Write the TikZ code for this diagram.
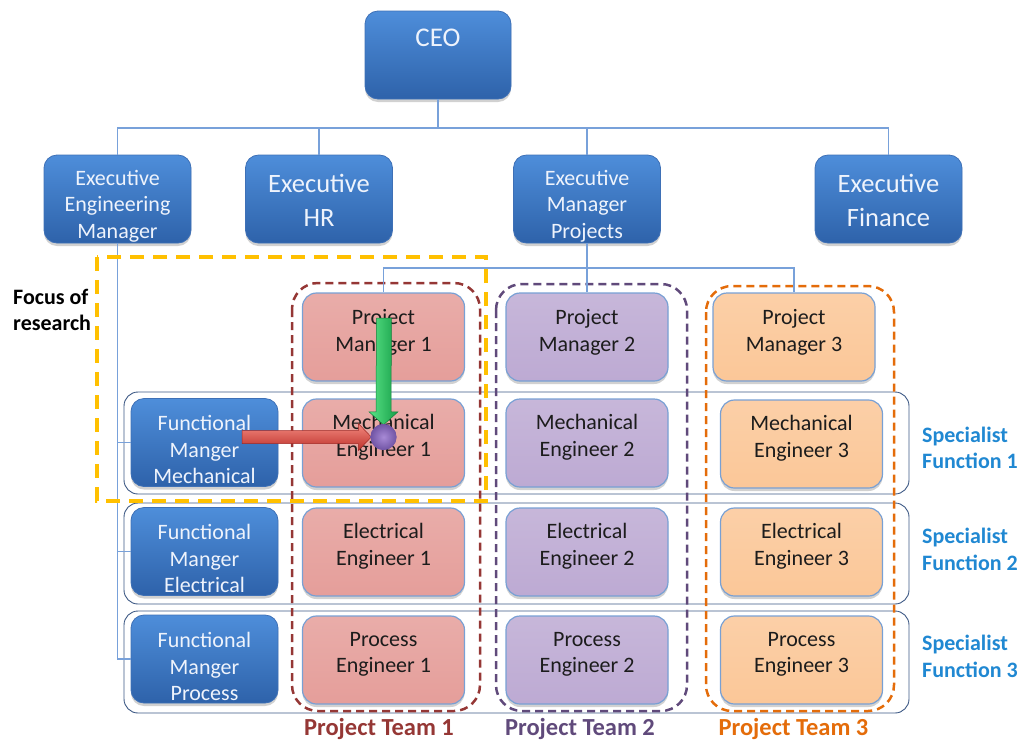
\documentclass[tikz,border=0pt]{standalone}
\usepackage{fontspec}
\setmainfont{Carlito}
\usetikzlibrary{shadows,calc}

\definecolor{bluetop}{RGB}{78,142,218}
\definecolor{bluebot}{RGB}{46,98,170}
\definecolor{blueedge}{RGB}{62,112,182}
\definecolor{pinkf}{RGB}{229,158,154}
\definecolor{purpf}{RGB}{189,170,211}
\definecolor{orngf}{RGB}{251,199,152}
\definecolor{paledge}{RGB}{120,160,212}
\definecolor{linkc}{RGB}{120,161,218}
\definecolor{rowc}{RGB}{60,88,132}
\definecolor{teamA}{RGB}{149,55,53}
\definecolor{teamB}{RGB}{96,74,123}
\definecolor{teamC}{RGB}{228,108,10}
\definecolor{focusc}{RGB}{255,192,0}
\definecolor{specc}{RGB}{32,136,210}
\definecolor{wtext}{RGB}{238,243,252}
\definecolor{ktext}{RGB}{28,28,28}

% box with its own text node
\newcommand\orgnode[6]{%
  \node[#2] (#1) at (#4) {};
  \node[#3] (#1-t) at (#5) {#6};
}

\begin{document}
\begin{tikzpicture}[x=1pt,y=-1pt,
  shade/.style={drop shadow={shadow xshift=0pt,shadow yshift=-3pt,opacity=0.3,fill=black!60}},
  bluebox/.style={shade,draw=blueedge,line width=0.8pt,top color=bluetop,bottom color=bluebot,
    rounded corners=13pt,minimum width=147pt,minimum height=88pt,inner sep=0pt},
  ceobox/.style={bluebox,minimum width=146pt},
  pastel/.style={shade,draw=paledge,line width=1.2pt,top color=#1!85!white,bottom color=#1,
    rounded corners=14pt,minimum width=162pt,minimum height=88pt,inner sep=0pt},
  wsmall/.style={text=wtext,align=center,inner sep=0pt,font=\fontsize{22}{26.5}\selectfont},
  wbig/.style={text=wtext,align=center,inner sep=0pt,font=\fontsize{26.5}{34}\selectfont},
  wceo/.style={text=wtext,align=center,inner sep=0pt,font=\fontsize{27}{32}\selectfont},
  ksmall/.style={text=ktext,align=center,inner sep=0pt,font=\fontsize{22}{26.5}\selectfont},
  conn/.style={draw=linkc,line width=1.5pt},
  rowbox/.style={draw=rowc,line width=0.9pt,rounded corners=14pt},
  teambox/.style={draw=#1,line width=2.5pt,dash pattern=on 8pt off 5pt,rounded corners=26pt},
  focusbox/.style={draw=focusc,line width=4pt,dash pattern=on 14pt off 9pt},
  speclabel/.style={text=specc,align=left,anchor=west,inner sep=0pt,
    font=\bfseries\fontsize{22}{26.5}\selectfont},
  teamlabel/.style={text=#1,inner sep=0pt,font=\bfseries\fontsize{24.5}{28}\selectfont},
  fatgreen/.style={left color={rgb,255:red,90;green,228;blue,135},right color={rgb,255:red,22;green,158;blue,72},
    draw={rgb,255:red,20;green,128;blue,60},line width=0.5pt},
  fatred/.style={top color={rgb,255:red,244;green,138;blue,128},bottom color={rgb,255:red,188;green,48;blue,42},
    draw={rgb,255:red,160;green,40;blue,36},line width=0.5pt},
  ball/.style={circle,minimum size=26pt,inner sep=0pt,
    inner color={rgb,255:red,168;green,138;blue,214},outer color={rgb,255:red,112;green,84;blue,164}}
]
\useasboundingbox (0,0) rectangle (1021,740);

% specialist function rows
\draw[rowbox] (124,392) rectangle (909,494);
\draw[rowbox] (124,503) rectangle (909,604);
\draw[rowbox] (124,611) rectangle (909,713);

% project team outlines
\draw[teambox=teamA] (292,283) rectangle (480,711);
\draw[teambox=teamB] (496,284) rectangle (687,711);
\draw[teambox=teamC] (706,286) rectangle (894,711);

% top level
\orgnode{ceo}{ceobox}{wceo}{438,55}{438,38}{CEO}
\orgnode{eem}{bluebox}{wsmall}{117.5,199}{117.5,206}{Executive\\Engineering\\Manager}
\orgnode{ehr}{bluebox}{wbig}{319,199}{319,200}{Executive\\HR}
\orgnode{emp}{bluebox}{wsmall}{587,199}{587,206}{Executive\\Manager\\Projects}
\orgnode{efi}{bluebox}{wbig}{888.5,199}{888.5,200}{Executive\\Finance}

% functional managers
\orgnode{fmm}{bluebox}{wsmall}{204.5,442.5}{204.5,449.5}{Functional\\Manger\\Mechanical}
\orgnode{fme}{bluebox}{wsmall}{204.5,551.5}{204.5,558.5}{Functional\\Manger\\Electrical}
\orgnode{fmp}{bluebox}{wsmall}{204.5,659}{204.5,666.5}{Functional\\Manger\\Process}

% project team 1
\orgnode{pm1}{pastel=pinkf}{ksmall}{383.5,337}{383.5,332.5}{Project\\Manager 1}
\orgnode{me1}{pastel=pinkf}{ksmall}{383.5,443}{383.5,437}{Mechanical\\Engineer 1}
\orgnode{ee1}{pastel=pinkf}{ksmall}{383.5,552}{383.5,546}{Electrical\\Engineer 1}
\orgnode{pe1}{pastel=pinkf}{ksmall}{383.5,660}{383.5,654.5}{Process\\Engineer 1}

% project team 2
\orgnode{pm2}{pastel=purpf}{ksmall}{587,337}{587,332.5}{Project\\Manager 2}
\orgnode{me2}{pastel=purpf}{ksmall}{587,443}{587,437}{Mechanical\\Engineer 2}
\orgnode{ee2}{pastel=purpf}{ksmall}{587,552}{587,546}{Electrical\\Engineer 2}
\orgnode{pe2}{pastel=purpf}{ksmall}{587,660}{587,654.5}{Process\\Engineer 2}

% project team 3
\orgnode{pm3}{pastel=orngf}{ksmall}{794,337}{794,332.5}{Project\\Manager 3}
\orgnode{me3}{pastel=orngf}{ksmall}{801.5,444}{801.5,438}{Mechanical\\Engineer 3}
\orgnode{ee3}{pastel=orngf}{ksmall}{801.5,552}{801.5,546}{Electrical\\Engineer 3}
\orgnode{pe3}{pastel=orngf}{ksmall}{801.5,660}{801.5,654.5}{Process\\Engineer 3}

% reporting lines
\coordinate (bus) at (438,128);
\draw[conn] (ceo.south) -- (bus);
\draw[conn] (bus) -| (eem.north);
\draw[conn] (bus) -| (ehr.north);
\draw[conn] (bus) -| (emp.north);
\draw[conn] (bus) -| (efi.north);

\coordinate (pbus) at (587,268);
\draw[conn] (emp.south) -- (pm2.north);
\draw[conn] (pbus) -| (pm1.north);
\draw[conn] (pbus) -| (pm3.north);

\draw[conn] (eem.south) |- (fmp.west);
\draw[conn] (eem.south |- fmm.west) -- (fmm.west);
\draw[conn] (eem.south |- fme.west) -- (fme.west);

% research focus
\draw[focusbox] (97,257) rectangle (486,501);
\node[align=left,anchor=west,inner sep=0pt,font=\bfseries\fontsize{22}{26}\selectfont] (focus) at (13,310) {Focus of\\research};

% matrix authority arrows meeting at the engineer
\node[ball] (dot) at (383.5,437) {};
\coordinate (gstart) at (384,318);
\coordinate (rstart) at (242,437);
\path[fatgreen] ($(gstart)+(-7.5,0)$) -- ($(gstart)+(7.5,0)$) -- ($(dot.north)+(7.5,-12)$)
  -- ($(dot.north)+(14.5,-12)$) -- ($(dot.north)+(0,1)$) -- ($(dot.north)+(-14.5,-12)$)
  -- ($(dot.north)+(-7.5,-12)$) -- cycle;
\path[fatred] ($(rstart)+(0,-6.5)$) -- ($(dot.west)+(-12,-6.5)$) -- ($(dot.west)+(-12,-13.5)$)
  -- ($(dot.west)+(1,0)$) -- ($(dot.west)+(-12,13.5)$) -- ($(dot.west)+(-12,6.5)$)
  -- ($(rstart)+(0,6.5)$) -- cycle;
\node[ball] (dotfront) at (dot) {};

% labels
\node[speclabel] (sf1) at (922,448) {Specialist\\Function 1};
\node[speclabel] (sf2) at (922,549.5) {Specialist\\Function 2};
\node[speclabel] (sf3) at (922,656.5) {Specialist\\Function 3};
\node[teamlabel=teamA] (pt1) at (379,729) {Project Team 1};
\node[teamlabel=teamB] (pt2) at (580,729) {Project Team 2};
\node[teamlabel=teamC] (pt3) at (793.5,729) {Project Team 3};
\end{tikzpicture}
\end{document}
